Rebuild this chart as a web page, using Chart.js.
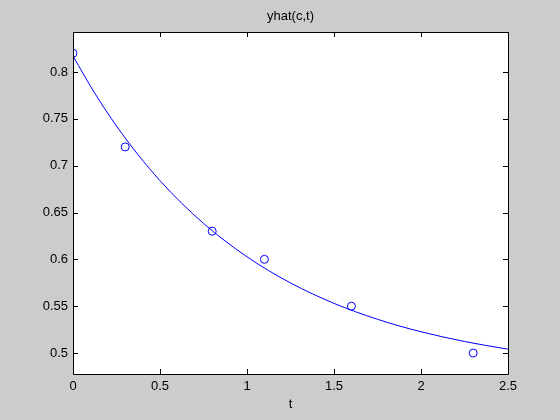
<!DOCTYPE html>
<html>
<head>
<meta charset="utf-8">
<script src="https://cdn.jsdelivr.net/npm/chart.js@4"></script>
<style>
  html, body { margin: 0; padding: 0; background: #cccccc; }
  #wrap { width: 560px; height: 420px; }
</style>
</head>
<body>
<div id="wrap"><canvas id="myChart" width="560" height="420"></canvas></div>
<script>
// measured data (circles)
const tData = [0, 0.3, 0.8, 1.1, 1.6, 2.3];
const yData = [0.82, 0.72, 0.63, 0.6, 0.55, 0.5];

// fitted curve
const tFit = [0, 0.125, 0.25, 0.375, 0.5, 0.625, 0.75, 0.875, 1, 1.125, 1.25,
  1.375, 1.5, 1.625, 1.75, 1.875, 2, 2.125, 2.25, 2.375, 2.5];
const yFit = [0.817, 0.7774, 0.7423, 0.7114, 0.684, 0.6598, 0.6384, 0.6195,
  0.6027, 0.5879, 0.5748, 0.5633, 0.553, 0.544, 0.536, 0.5289, 0.5227,
  0.5172, 0.5123, 0.508, 0.5041];

const xTicks = [0, 0.5, 1, 1.5, 2, 2.5];
const yTicks = [0.5, 0.55, 0.6, 0.65, 0.7, 0.75, 0.8];

const titleText = "yhat(c,t)";
const xLabel = "t";

const FONT = "Liberation Sans, Arial, sans-serif";

// gray figure, white axes, box, inward ticks, title and xlabel
const matlabLook = {
  id: "matlabLook",
  beforeDraw(chart) {
    const { ctx, chartArea: a } = chart;
    ctx.save();
    ctx.fillStyle = "#cccccc";
    ctx.fillRect(0, 0, chart.width, chart.height);
    ctx.fillStyle = "#ffffff";
    ctx.fillRect(a.left, a.top, a.right - a.left, a.bottom - a.top);
    ctx.restore();
  },
  afterDraw(chart) {
    const { ctx, chartArea: a, scales } = chart;
    ctx.save();
    ctx.strokeStyle = "#000000";
    ctx.lineWidth = 1;
    ctx.beginPath();
    ctx.rect(a.left + 0.5, a.top + 0.5, a.right - a.left, a.bottom - a.top);
    xTicks.forEach((v) => {
      const x = Math.round(scales.x.getPixelForValue(v)) + 0.5;
      ctx.moveTo(x, a.bottom);
      ctx.lineTo(x, a.bottom - 5);
      ctx.moveTo(x, a.top);
      ctx.lineTo(x, a.top + 5);
    });
    yTicks.forEach((v) => {
      const y = Math.round(scales.y.getPixelForValue(v)) + 0.5;
      ctx.moveTo(a.left, y);
      ctx.lineTo(a.left + 5, y);
      ctx.moveTo(a.right, y);
      ctx.lineTo(a.right - 5, y);
    });
    ctx.stroke();

    ctx.fillStyle = "#000000";
    ctx.font = "13px " + FONT;
    ctx.textAlign = "center";
    ctx.textBaseline = "alphabetic";
    const cx = (a.left + a.right) / 2;
    ctx.fillText(titleText, cx, 20);
    ctx.fillText(xLabel, cx, 408);
    ctx.restore();
  },
};

const ctx = document.getElementById("myChart").getContext("2d");
const myChart = new Chart(ctx, {
  type: "scatter",
  data: {
    datasets: [
      {
        label: "fit",
        data: tFit.map((t, i) => ({ x: t, y: yFit[i] })),
        showLine: true,
        borderColor: "#0000ff",
        borderWidth: 1,
        pointRadius: 0,
        cubicInterpolationMode: "monotone",
        fill: false,
      },
      {
        label: "data",
        data: tData.map((t, i) => ({ x: t, y: yData[i] })),
        showLine: false,
        borderColor: "#0000ff",
        backgroundColor: "rgba(0,0,0,0)",
        borderWidth: 1,
        pointRadius: 4,
        pointHoverRadius: 4,
      },
    ],
  },
  plugins: [matlabLook],
  options: {
    responsive: false,
    animation: false,
    layout: { padding: { top: 32, right: 52, left: 0, bottom: 0 } },
    scales: {
      x: {
        type: "linear",
        min: 0,
        max: 2.5,
        bounds: "data",
        grid: { display: false, drawTicks: false },
        border: { display: false },
        afterBuildTicks: (scale) => {
          scale.ticks = xTicks.map((v) => ({ value: v }));
        },
        afterFit: (scale) => {
          scale.height = 46;
        },
        ticks: {
          padding: 5,
          color: "#000000",
          font: { size: 13, family: FONT },
          maxRotation: 0,
          callback: (v) => String(v),
        },
      },
      y: {
        type: "linear",
        min: 0.4776,
        max: 0.8427,
        bounds: "data",
        grid: { display: false, drawTicks: false },
        border: { display: false },
        afterBuildTicks: (scale) => {
          scale.ticks = yTicks.map((v) => ({ value: v }));
        },
        afterFit: (scale) => {
          scale.width = 73;
        },
        ticks: {
          padding: 5,
          color: "#000000",
          font: { size: 13, family: FONT },
          callback: (v) => String(v),
        },
      },
    },
    plugins: {
      legend: { display: false },
      title: { display: false },
      tooltip: { enabled: false },
    },
  },
});
</script>
</body>
</html>
